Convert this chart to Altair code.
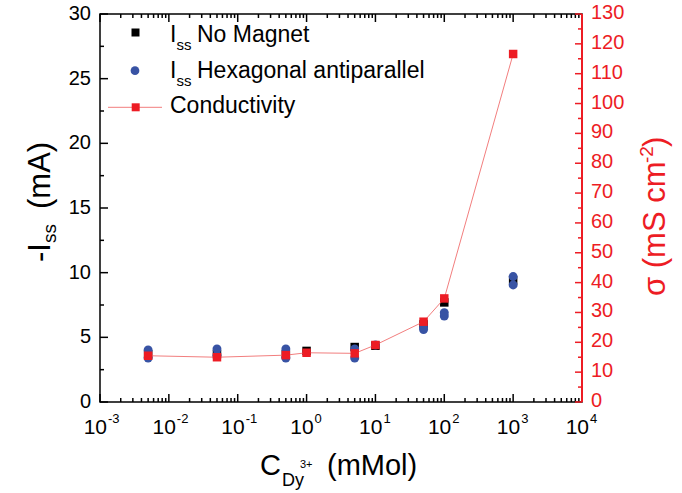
import altair as alt
import pandas as pd

# ---- data ----
conc = [0.005, 0.05, 0.5, 1, 5, 10, 50, 100, 1000]
no_magnet = [3.7, 3.7, 3.7, 3.95, 4.25, 4.35, 6.0, 7.7, 9.4]
hex_conc = [0.005, 0.005, 0.05, 0.05, 0.5, 0.5, 5, 5, 10, 50, 50, 100, 100, 1000, 1000]
hex_vals = [4.02, 3.4, 4.1, 3.6, 4.1, 3.4, 4.1, 3.4, 4.4, 5.6, 5.75, 6.65, 6.9, 9.05, 9.7]
conductivity = [15.5, 15.0, 15.7, 16.5, 16.3, 19.1, 26.9, 34.7, 116.6]

# ---- tick values / labels ----
x_decades = [1e-3, 1e-2, 1e-1, 1, 10, 100, 1000, 10000]
x_exponents = ["-3", "-2", "-1", "0", "1", "2", "3", "4"]
x_minor = [m * d for d in x_decades[:-1] for m in range(2, 10)]
left_major = [0, 5, 10, 15, 20, 25, 30]
left_minor = [2.5, 7.5, 12.5, 17.5, 22.5, 27.5]
right_major = [0, 10, 20, 30, 40, 50, 60, 70, 80, 90, 100, 110, 120, 130]
right_minor = [5, 15, 25, 35, 45, 55, 65, 75, 85, 95, 105, 115, 125]

FONT = "Liberation Sans"
BLACK = "#000000"
BLUE = "#3853A4"
RED = "#ED1C24"
PINK = "#F27E7E"
W, H = 482, 388

df_nm = pd.DataFrame({"c": conc, "v": no_magnet})
df_hex = pd.DataFrame({"c": hex_conc, "v": hex_vals})
df_cond = pd.DataFrame({"c": conc, "s": conductivity})
df_dec = pd.DataFrame({"c": x_decades, "e": x_exponents})
df_xmin = pd.DataFrame({"c": x_minor})
df_lmaj = pd.DataFrame({"v": left_major, "t": [str(v) for v in left_major]})
df_rmaj = pd.DataFrame({"s": right_major, "t": [str(v) for v in right_major]})
one = pd.DataFrame({"a": [0]})

xs = alt.Scale(type="log", domain=[0.001, 10000], nice=False)
yl = alt.Scale(domain=[0, 30], nice=False)
yr = alt.Scale(domain=[0, 130], nice=False)

X = alt.X("c:Q", scale=xs, axis=None)
YL = alt.Y("v:Q", scale=yl, axis=None)
YR = alt.Y("s:Q", scale=yr, axis=None)

# ---- left (current) group ----
black_pts = alt.Chart(df_nm).mark_point(shape="square", filled=True, size=72, color=BLACK, opacity=1).encode(x=X, y=YL)
blue_pts = alt.Chart(df_hex).mark_point(shape="circle", filled=True, size=80, color=BLUE, opacity=1).encode(x=X, y=YL)
lt_major = alt.Chart(df_lmaj).mark_rule(color=BLACK, strokeWidth=1.5).encode(y=YL, x=alt.value(0), x2=alt.value(8))
lt_minor = alt.Chart(pd.DataFrame({"v": left_minor})).mark_rule(color=BLACK, strokeWidth=1.5).encode(
    y=YL, x=alt.value(0), x2=alt.value(4))
lt_labels = alt.Chart(df_lmaj).mark_text(font=FONT, fontSize=20, align="right", baseline="middle",
                                         color=BLACK).encode(y=YL, x=alt.value(-9), text="t:N")
xb_major = alt.Chart(df_dec).mark_rule(color=BLACK, strokeWidth=1.5).encode(x=X, y=alt.value(H), y2=alt.value(H - 8))
xb_minor = alt.Chart(df_xmin).mark_rule(color=BLACK, strokeWidth=1.5).encode(x=X, y=alt.value(H), y2=alt.value(H - 4))
xt_major = alt.Chart(df_dec).mark_rule(color=BLACK, strokeWidth=1.5).encode(x=X, y=alt.value(0), y2=alt.value(8))
xt_minor = alt.Chart(df_xmin).mark_rule(color=BLACK, strokeWidth=1.5).encode(x=X, y=alt.value(0), y2=alt.value(4))
x_lab10 = alt.Chart(df_dec).mark_text(text="10", font=FONT, fontSize=21, align="right", baseline="alphabetic",
                                       dx=7, color=BLACK).encode(x=X, y=alt.value(420))
x_labexp = alt.Chart(df_dec).mark_text(font=FONT, fontSize=13, align="left", baseline="alphabetic",
                                        dx=8, color=BLACK).encode(x=X, y=alt.value(408.5), text="e:N")

left = alt.layer(lt_major, lt_minor, lt_labels, xb_major, xb_minor, xt_major, xt_minor,
                 x_lab10, x_labexp, black_pts, blue_pts)

# ---- right (conductivity) group ----
r_domain = alt.Chart(one).mark_rule(color=RED, strokeWidth=2).encode(
    x=alt.value(W), y=alt.value(0), y2=alt.value(H))
cond_line = alt.Chart(df_cond).mark_line(color=PINK, strokeWidth=1).encode(x=X, y=YR)
cond_pts = alt.Chart(df_cond).mark_point(shape="square", filled=True, size=72, color=RED, opacity=1).encode(x=X, y=YR)
rt_major = alt.Chart(df_rmaj).mark_rule(color=RED, strokeWidth=1.5).encode(y=YR, x=alt.value(W), x2=alt.value(W - 7))
rt_minor = alt.Chart(pd.DataFrame({"s": right_minor})).mark_rule(color=RED, strokeWidth=1.5).encode(
    y=YR, x=alt.value(W), x2=alt.value(W - 4))
rt_labels = alt.Chart(df_rmaj).mark_text(font=FONT, fontSize=20, align="left", baseline="middle",
                                         color=RED, dy=-1).encode(y=YR, x=alt.value(W + 9), text="t:N")

right = alt.layer(r_domain, rt_major, rt_minor, rt_labels, cond_line, cond_pts)


# ---- annotations (legend, axis titles) ----
def txt(t, x, y, size, color=BLACK, angle=0):
    return alt.Chart(one).mark_text(text=t, font=FONT, fontSize=size, align="left", baseline="alphabetic",
                                    color=color, angle=angle).encode(x=alt.value(x), y=alt.value(y))


ann = [
    # legend
    alt.Chart(one).mark_point(shape="square", filled=True, size=64, color=BLACK, opacity=1).encode(
        x=alt.value(35.5), y=alt.value(18.5)),
    txt("I", 70, 27.7, 23), txt("ss", 76.5, 35.5, 15), txt("No Magnet", 97, 27.7, 23),
    alt.Chart(one).mark_point(shape="circle", filled=True, size=76, color=BLUE, opacity=1).encode(
        x=alt.value(35), y=alt.value(56.7)),
    txt("I", 70, 64.3, 23), txt("ss", 76.5, 72.2, 15), txt("Hexagonal antiparallel", 97, 64.3, 23),
    alt.Chart(one).mark_rule(color=PINK, strokeWidth=1).encode(x=alt.value(8), x2=alt.value(62), y=alt.value(93.3)),
    alt.Chart(one).mark_point(shape="square", filled=True, size=64, color=RED, opacity=1).encode(
        x=alt.value(35.7), y=alt.value(93.3)),
    txt("Conductivity", 70, 99.3, 23),
    # x title
    txt("C", 160, 461, 29), txt("Dy", 182, 472, 18), txt("3+", 200, 454, 11), txt("(mMol)", 227, 461, 29),
    # left title
    txt("-I", -50, 248, 31, angle=270), txt("ss", -44, 229, 19, angle=270), txt("(mA)", -50, 195, 31, angle=270),
    # right title
    txt("σ (mS cm", 565, 282, 31, color=RED, angle=270), txt("-2", 553, 149, 19, color=RED, angle=270),
    txt(")", 565, 133, 31, color=RED, angle=270),
]

chart = alt.layer(left, right, *ann).resolve_scale(y="independent").properties(
    width=W, height=H,
    padding={"left": 100, "top": 14, "right": 100, "bottom": 91},
    autosize=alt.AutoSizeParams(type="none"),
    background="white",
).configure_view(stroke=BLACK, strokeWidth=1.5)

chart.save("out.html", embed_options={"renderer": "svg", "actions": False})
